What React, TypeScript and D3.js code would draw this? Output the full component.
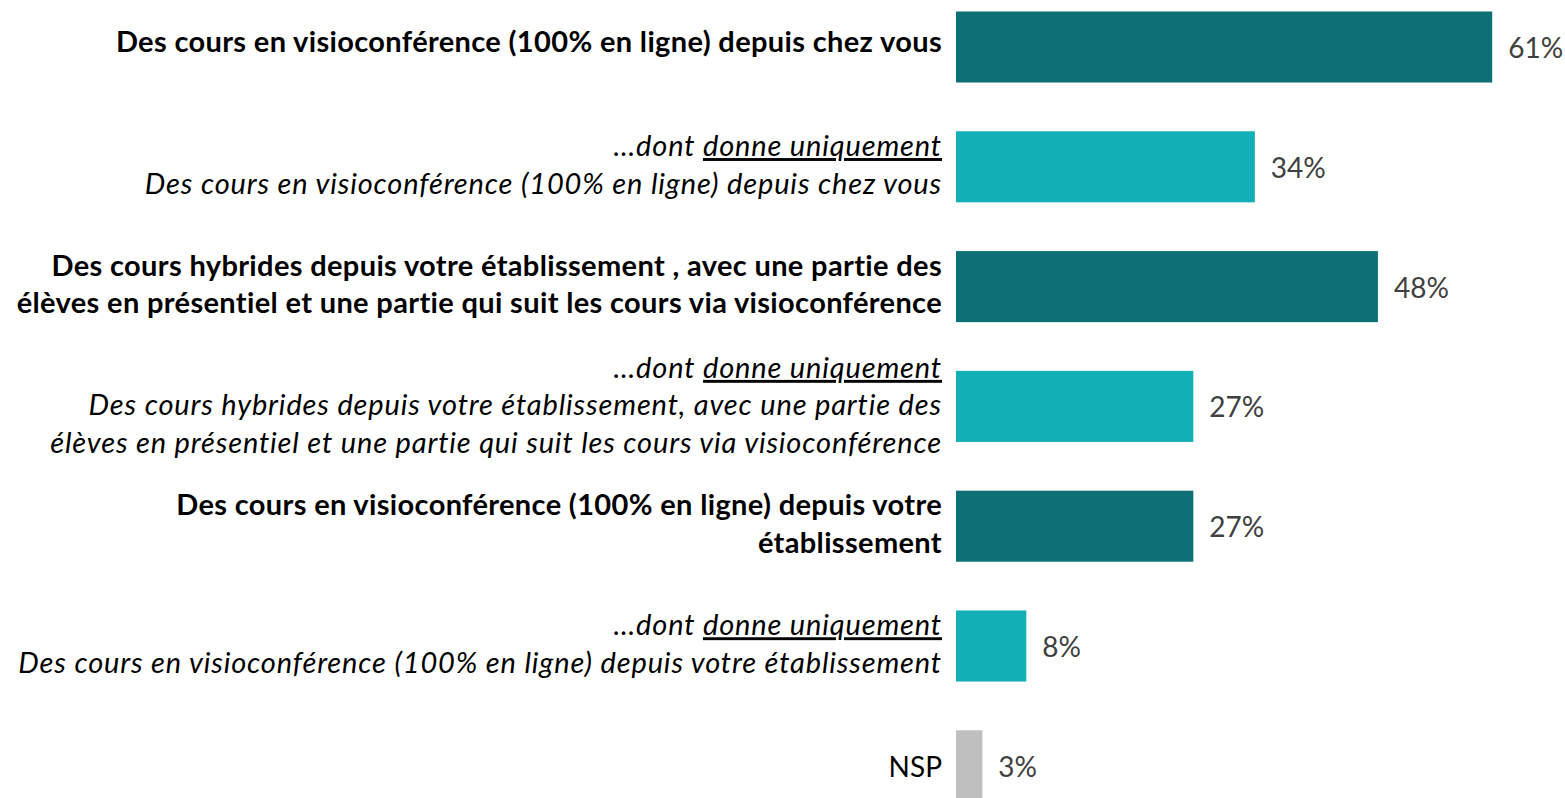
import React, { useEffect, useRef } from "react";
import { select, scaleLinear, scaleBand } from "d3";

// rows, top to bottom
const rowKeys = ["visio_home", "visio_home_only", "hybrid", "hybrid_only", "visio_school", "visio_school_only", "nsp"];
const rowKinds = ["main", "sub", "main", "sub", "main", "sub", "nsp"];
const rowLabels = [
  ["Des cours en visioconférence (100% en ligne) depuis chez vous"],
  ["…dont |donne uniquement", "Des cours en visioconférence (100% en ligne) depuis chez vous"],
  [
    "Des cours hybrides depuis votre établissement , avec une partie des",
    "élèves en présentiel et une partie qui suit les cours via visioconférence",
  ],
  [
    "…dont |donne uniquement",
    "Des cours hybrides depuis votre établissement, avec une partie des",
    "élèves en présentiel et une partie qui suit les cours via visioconférence",
  ],
  ["Des cours en visioconférence (100% en ligne) depuis votre", "établissement"],
  ["…dont |donne uniquement", "Des cours en visioconférence (100% en ligne) depuis votre établissement"],
  ["NSP"],
];
const values = [61, 34, 48, 27, 27, 8, 3];

const colors = { main: "#0c7074", sub: "#13afb7", nsp: "#bfbfbf" };
const spacing = { main: 0.35, sub: 0.85, nsp: 0 };

const width = 1565;
const height = 798;
const barX = 956;
const labelX = 942;
const fontSize = 29;
const lineGap = 37.5;
// baseline shift of the label block, by number of lines
const blockShift = { 1: 5, 2: 8, 3: 9 };

function Chart() {
  const svgRef = useRef<SVGSVGElement>(null);

  useEffect(() => {
    const svg = select(svgRef.current);
    svg.selectAll("*").remove();

    const x = scaleLinear().domain([0, 100]).range([barX, barX + 879]);
    const step = 119.8;
    const y = scaleBand<string>()
      .domain(rowKeys)
      .range([47 - step / 2, 47 - step / 2 + step * rowKeys.length])
      .paddingInner(0.407)
      .paddingOuter(0.2035);

    const rows = svg
      .selectAll("g.row")
      .data(rowKeys)
      .join("g")
      .attr("class", "row");

    rows
      .append("rect")
      .attr("x", x(0))
      .attr("y", (d) => y(d)!)
      .attr("width", (d, i) => x(values[i]) - x(0))
      .attr("height", y.bandwidth())
      .attr("fill", (d, i) => colors[rowKinds[i]]);

    rows
      .append("text")
      .attr("x", (d, i) => x(values[i]) + 16)
      .attr("y", (d) => y(d)! + y.bandwidth() / 2 + 11)
      .attr("fill", "#404040")
      .attr("font-size", 28)
      .text((d, i) => `${values[i]}%`);

    rows.each(function (d, i) {
      const lines = rowLabels[i];
      const cy = y(d)! + y.bandwidth() / 2;
      const kind = rowKinds[i];
      const shift = kind === "nsp" ? 11 : blockShift[lines.length];
      const t = select(this)
        .append("text")
        .attr("text-anchor", "end")
        .attr("font-size", kind === "nsp" ? 28 : fontSize)
        .attr("letter-spacing", spacing[kind])
        .attr("fill", "#000")
        .attr("font-weight", kind === "main" ? "bold" : "normal")
        .attr("font-style", kind === "sub" ? "italic" : "normal");
      lines.forEach((line, k) => {
        const by = cy + shift + (k - (lines.length - 1) / 2) * lineGap;
        const parts = line.split("|");
        t.append("tspan").attr("x", labelX).attr("y", by).text(parts[0]);
        if (parts.length > 1) {
          t.append("tspan").attr("text-decoration", "underline").text(parts[1]);
        }
      });
    });
  }, []);

  return (
    <svg
      ref={svgRef}
      width={width}
      height={height}
      style={{ position: "absolute", left: 0, top: 0, fontFamily: "Lato, sans-serif", background: "#fff" }}
    />
  );
}

export default function App() {
  return <Chart />;
}
